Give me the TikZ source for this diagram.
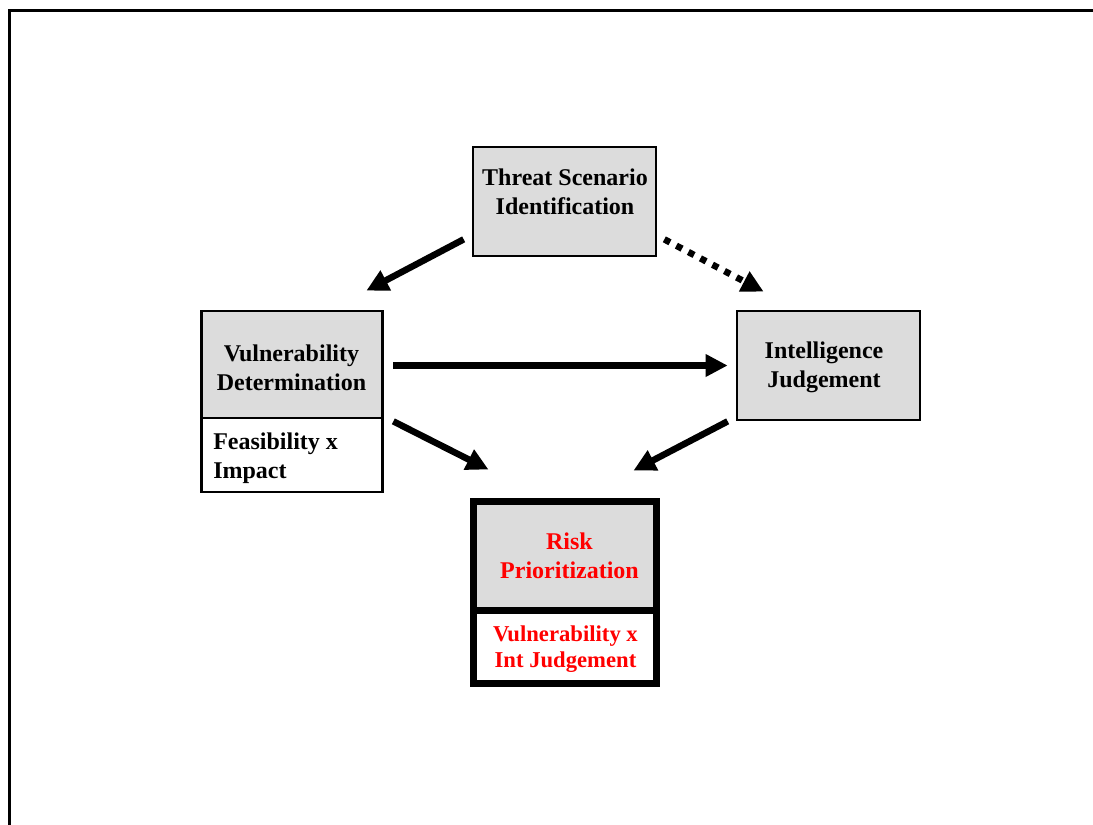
\documentclass[tikz,border=0pt]{standalone}
\usepackage{fontspec}
\setmainfont{Liberation Serif}
\usetikzlibrary{arrows.meta}
\definecolor{boxgray}{RGB}{220,220,220}
\definecolor{riskred}{RGB}{255,0,0}
\begin{document}
\begin{tikzpicture}[x=0.75pt,y=-0.75pt,
  labelfont/.style={font=\fontsize{18pt}{22pt}\selectfont\bfseries, align=center, inner sep=0pt},
  smallfont/.style={font=\fontsize{17pt}{20pt}\selectfont\bfseries, align=center, inner sep=0pt},
  graybox/.style={draw=black, line width=2pt, fill=boxgray, inner sep=0pt},
  whitebox/.style={draw=black, line width=2pt, fill=white, inner sep=0pt},
  heavy/.style={line width=5.25pt},
  flow/.style={line width=4.9pt, -{Triangle[length=16.5pt,width=16pt]}},
  dotflow/.style={flow, dash pattern=on 4.8pt off 5.4pt}
]
\useasboundingbox (0,0) rectangle (1093,825);

% open frame: left and top edges only
\draw[line width=2.25pt] (9,826) -- (9,10) -- (1094,10);

% boxes
\node[graybox, minimum width=137.25pt, minimum height=81.75pt] (threat) at (564.5,201.5) {};
\node[graybox, minimum width=135.75pt, minimum height=80.25pt] (vuln) at (292,364.5) {};
\node[whitebox, minimum width=135.75pt, minimum height=55.5pt] (feas) at (292,455) {};
\node[graybox, minimum width=137.25pt, minimum height=81.75pt] (intel) at (828.5,365.5) {};
\node[graybox, heavy, minimum width=136.875pt, minimum height=81.75pt] (risk) at (564.75,555.5) {};
\node[whitebox, heavy, minimum width=136.875pt, minimum height=54.75pt] (riskcalc) at (564.75,646.5) {};

% labels
\node[labelfont] (threattxt) at (565,191.5) {Threat Scenario\\Identification};
\node[labelfont] (vulntxt) at (291.5,367.5) {Vulnerability\\Determination};
\node[labelfont, align=left, anchor=west] (feastxt) at (213,458) {Feasibility x\\Impact};
\node[labelfont] (inteltxt) at (824,367) {Intelligence\\Judgement};
\node[labelfont, text=riskred] (risktxt) at (569.5,556) {Risk\\Prioritization};
\node[smallfont, text=riskred] (riskcalctxt) at (565.5,649) {Vulnerability x\\Int Judgement};

% connector end points, placed off the box borders
\coordinate (t-l) at ([shift={(-8,-18)}]threat.south west);
\coordinate (t-r) at ([shift={(7,-18)}]threat.south east);
\coordinate (v-top) at ([shift={(-17.5,-19)}]vuln.north east);
\coordinate (v-r) at ([shift={(9.5,1)}]vuln.east);
\coordinate (v-low) at ([shift={(9.5,2)}]vuln.south east);
\coordinate (i-top) at ([shift={(28,-18)}]intel.north west);
\coordinate (i-l) at ([shift={(-8,0)}]intel.west);
\coordinate (i-low) at ([shift={(-8,0)}]intel.south west);
\coordinate (r-l) at ([shift={(18.5,-28)}]risk.north west);
\coordinate (r-r) at ([shift={(-26,-27)}]risk.north east);

% connectors
\draw[flow] (t-l) -- (v-top);
\draw[dotflow] (t-r) -- (i-top);
\draw[flow] (v-r) -- (i-l);
\draw[flow] (v-low) -- (r-l);
\draw[flow] (i-low) -- (r-r);
\end{tikzpicture}
\end{document}
